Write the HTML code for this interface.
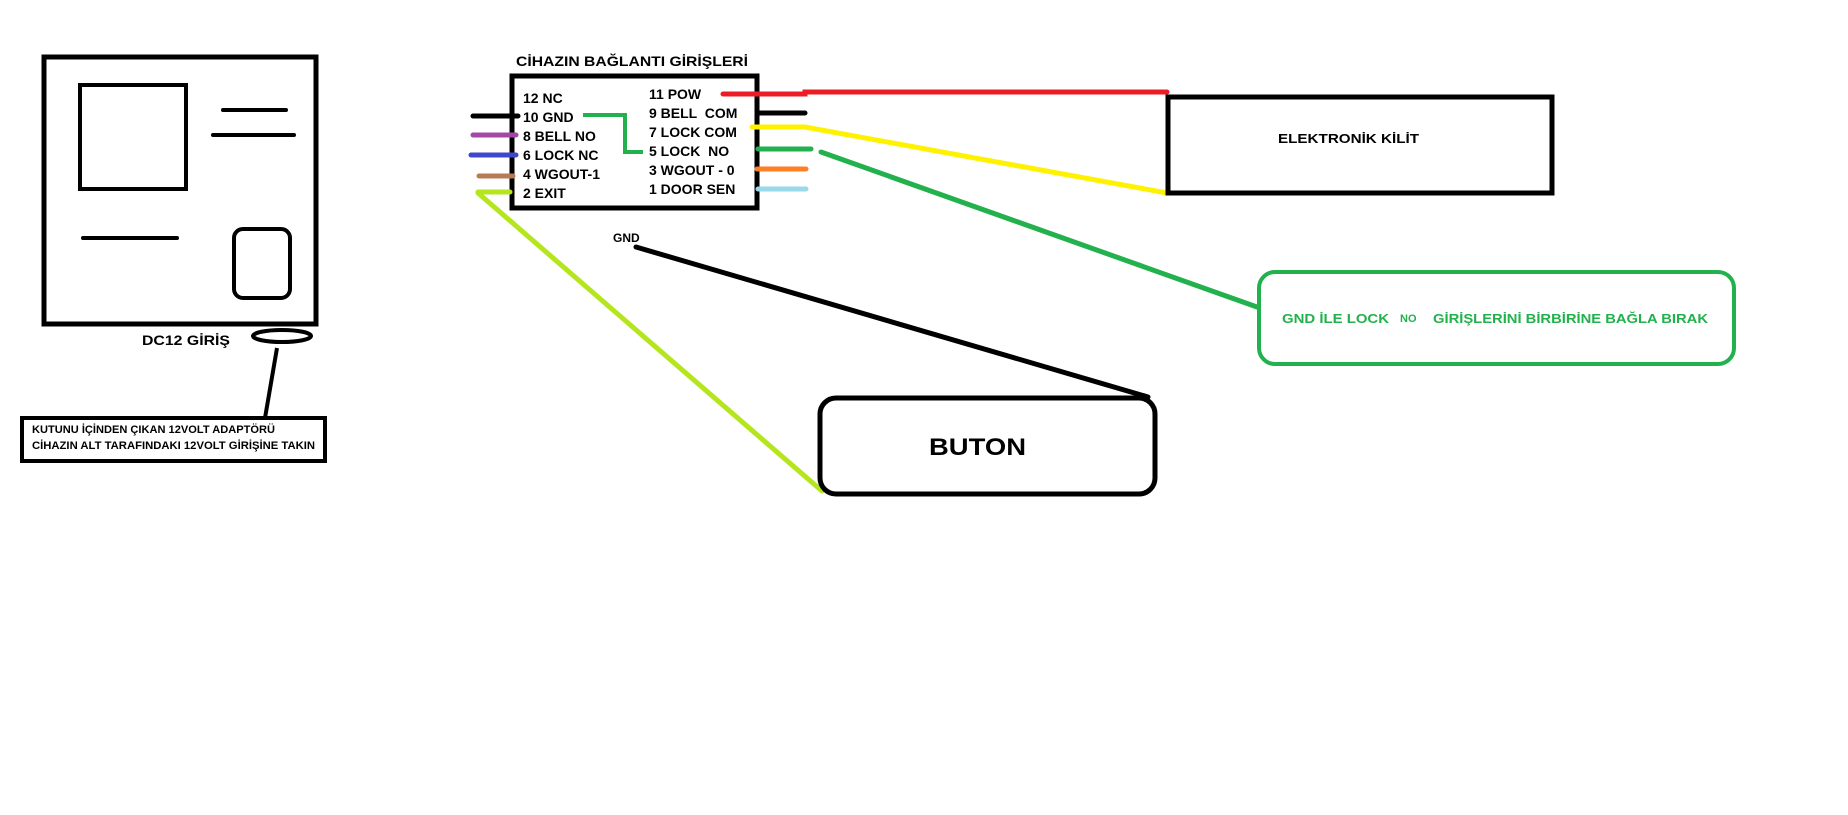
<!DOCTYPE html>
<html><head><meta charset="utf-8"><style>html,body{margin:0;padding:0;background:#fff;}svg{display:block}text{font-family:"Liberation Sans",Arial,sans-serif;font-weight:bold;white-space:pre}</style></head>
<body>
<svg width="1848" height="815" viewBox="0 0 1848 815" xmlns="http://www.w3.org/2000/svg" xml:space="preserve">
<rect width="1848" height="815" fill="#fff"/>
<rect x="44" y="57" width="272" height="267" fill="none" stroke="#000" stroke-width="5"/>
<rect x="80" y="85" width="106" height="104" fill="none" stroke="#000" stroke-width="4"/>
<line x1="223" y1="110" x2="286" y2="110" stroke="#000" stroke-width="4" stroke-linecap="round"/>
<line x1="213" y1="135" x2="294" y2="135" stroke="#000" stroke-width="4" stroke-linecap="round"/>
<line x1="83" y1="238" x2="177" y2="238" stroke="#000" stroke-width="4" stroke-linecap="round"/>
<rect x="234" y="229" width="56" height="69" rx="9" fill="none" stroke="#000" stroke-width="4"/>
<text x="142" y="345" font-size="14" textLength="88" lengthAdjust="spacingAndGlyphs">DC12 GİRİŞ</text>
<ellipse cx="282" cy="336" rx="29" ry="6" fill="none" stroke="#000" stroke-width="4"/>
<line x1="277" y1="348" x2="265" y2="418" stroke="#000" stroke-width="4"/>
<rect x="22" y="418" width="303" height="43" fill="#fff" stroke="#000" stroke-width="4"/>
<text x="32" y="433" font-size="11" textLength="243" lengthAdjust="spacingAndGlyphs">KUTUNU İÇİNDEN ÇIKAN 12VOLT ADAPTÖRÜ</text>
<text x="32" y="449" font-size="11" textLength="283" lengthAdjust="spacingAndGlyphs">CİHAZIN ALT TARAFINDAKI 12VOLT GİRİŞİNE TAKIN</text>
<text x="516" y="66" font-size="14" textLength="232" lengthAdjust="spacingAndGlyphs">CİHAZIN BAĞLANTI GİRİŞLERİ</text>
<rect x="512" y="76" width="245" height="132" fill="none" stroke="#000" stroke-width="5"/>
<g font-size="14">
<text x="523" y="103">12 NC</text>
<text x="523" y="122">10 GND</text>
<text x="523" y="141">8 BELL NO</text>
<text x="523" y="160">6 LOCK NC</text>
<text x="523" y="179">4 WGOUT-1</text>
<text x="523" y="198">2 EXIT</text>
<text x="649" y="99">11 POW</text>
<text x="649" y="118">9 BELL  COM</text>
<text x="649" y="137">7 LOCK COM</text>
<text x="649" y="156">5 LOCK  NO</text>
<text x="649" y="175">3 WGOUT - 0</text>
<text x="649" y="194">1 DOOR SEN</text>
</g>
<polyline points="583,115 625,115 625,152 643,152" fill="none" stroke="#22b14c" stroke-width="4"/>
<g stroke-width="5" stroke-linecap="round" fill="none">
<line x1="473" y1="116" x2="518" y2="116" stroke="#000"/>
<line x1="473" y1="135" x2="516" y2="135" stroke="#a349a4"/>
<line x1="471" y1="155" x2="516" y2="155" stroke="#3f48cc"/>
<line x1="479" y1="176" x2="513" y2="176" stroke="#b97a57"/>
<line x1="478" y1="192" x2="510" y2="192" stroke="#b5e61d"/>
<polyline points="723,94 805,94 805,92 1167,92" stroke="#ed1c24"/>
<line x1="757" y1="113" x2="805" y2="113" stroke="#000"/>
<polyline points="752,127 805,127 1167,193" stroke="#fff200"/>
<line x1="758" y1="149" x2="811" y2="149" stroke="#22b14c"/>
<line x1="821" y1="152" x2="1257" y2="307" stroke="#22b14c"/>
<line x1="757" y1="169" x2="806" y2="169" stroke="#ff7f27"/>
<line x1="758" y1="189" x2="806" y2="189" stroke="#99d9ea"/>
<line x1="478" y1="193" x2="822" y2="491" stroke="#b5e61d"/>
<line x1="636" y1="247" x2="1148" y2="397" stroke="#000"/>
</g>
<text x="613" y="242" font-size="12">GND</text>
<rect x="1168" y="97" width="384" height="96" fill="none" stroke="#000" stroke-width="5"/>
<text x="1278" y="143" font-size="13" textLength="141" lengthAdjust="spacingAndGlyphs">ELEKTRONİK KİLİT</text>
<rect x="1259" y="272" width="475" height="92" rx="16" fill="none" stroke="#22b14c" stroke-width="4"/>
<text x="1282" y="323" font-size="13" fill="#22b14c" textLength="107" lengthAdjust="spacingAndGlyphs">GND İLE LOCK</text>
<text x="1400" y="322" font-size="11" fill="#22b14c">NO</text>
<text x="1433" y="323" font-size="13" fill="#22b14c" textLength="275" lengthAdjust="spacingAndGlyphs">GİRİŞLERİNİ BİRBİRİNE BAĞLA BIRAK</text>
<rect x="820" y="398" width="335" height="96" rx="16" fill="#fff" stroke="#000" stroke-width="5"/>
<text x="929" y="455" font-size="24" textLength="97" lengthAdjust="spacingAndGlyphs">BUTON</text>
</svg>
</body></html>
